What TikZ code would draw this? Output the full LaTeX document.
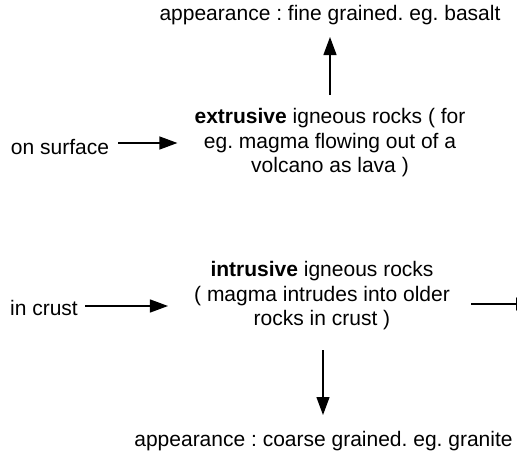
\documentclass[tikz,border=0pt]{standalone}
\usepackage{fontspec}
\setmainfont{Liberation Sans}
\usetikzlibrary{arrows.meta}
\frenchspacing
\begin{document}
\begin{tikzpicture}[x=1pt,y=1pt,
  txt/.style={font=\fontsize{21}{24.5}\selectfont, align=center, inner sep=0pt},
  conn/.style={-{Triangle[length=18pt,width=13pt]}, line width=1.3pt}]
\useasboundingbox (0,0) rectangle (517,-455);
\node[txt] (tA) at (330,-15) {appearance : fine grained. eg. basalt};
\node[txt] (ext) at (330,-143) {\textbf{extrusive} igneous rocks ( for\\eg. magma flowing out of a\\volcano as lava )};
\node[txt] (surf) at (60,-147.5) {on surface};
\node[txt] (intr) at (322,-296) {\textbf{intrusive} igneous rocks\\( magma intrudes into older\\rocks in crust )};
\node[txt] (crust) at (44,-307.5) {in crust};
\node[txt] (tB) at (323.5,-441) {appearance : coarse grained. eg. granite};
\coordinate (off) at (534,-304);
\draw[conn, shorten <=9pt, shorten >=17pt] (surf.east |- 0,-143) -- (ext.west |- 0,-143);
\draw[conn] (330,-95) -- (330,-37);
\draw[conn, shorten <=7pt, shorten >=26pt] (crust.east |- 0,-306) -- (intr.west |- 0,-306);
\draw[conn] (intr.east |- 0,-304) ++(21,0) -- (off);
\draw[conn] (323,-350) -- (323,-415);
\end{tikzpicture}
\end{document}
